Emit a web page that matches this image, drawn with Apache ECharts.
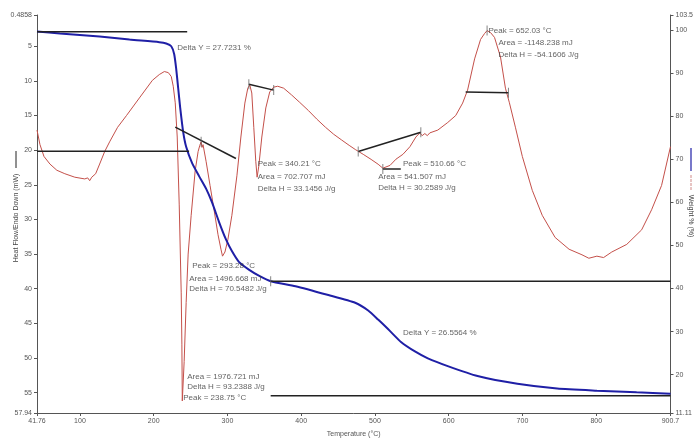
<!DOCTYPE html>
<html>
<head>
<meta charset="utf-8">
<script src="https://cdn.jsdelivr.net/npm/echarts@6/dist/echarts.min.js"></script>
<style>
  html, body { margin: 0; padding: 0; background: #fff; }
  #chart { width: 696px; height: 443px; }
</style>
</head>
<body>
<div id="chart"></div>
<script>
// Temperature axis (°C)
const tempTicks = [41.76, 100, 200, 300, 400, 500, 600, 700, 800, 900.7];
// Heat flow axis (mW), endo down
const heatTicks = [0.4858, 5, 10, 15, 20, 25, 30, 35, 40, 45, 50, 55, 57.94];
// Weight axis (%)
const weightTicks = [11.11, 20, 30, 40, 50, 60, 70, 80, 90, 100, 103.5];

// DSC trace: temperature (°C)
const dscTemp = [41.76, 45.8, 51.2, 59.3, 68.7, 79.5, 93.0, 106.5, 110.5, 113.2, 116.0, 121.3, 126.7, 133.5, 140.2,
  151.0, 163.1, 180.6, 198.2, 207.6, 214.4, 219.8, 223.8, 226.5, 229.2, 231.9, 234.6, 237.3, 238.2, 238.75,
  241.3, 244.0, 246.7, 250.8, 256.2, 260.2, 262.5, 264.3, 265.5, 266.9, 271.0, 276.4, 281.8, 287.2, 291.2,
  293.28, 296.6, 300.6, 306.0, 312.8, 318.2, 323.6, 327.6, 330.3, 333.0, 335.7, 338.4, 340.21, 342.5,
  346.6, 352.0, 357.3, 362.7, 368.1, 376.2, 387.0, 398.0, 409.9, 421.0, 432.8, 444.0, 454.4, 465.0, 473.3,
  484.1, 494.8, 504.3, 510.66, 520.4, 528.5, 537.9, 547.4, 555.5, 560.9, 564.0, 567.6, 571.0, 574.4,
  585.2, 598.7, 609.5, 618.9, 625.6, 635.1, 643.2, 648.6, 652.03, 656.7, 662.1, 670.2, 676.9, 682.3,
  690.4, 699.8, 713.3, 726.8, 744.3, 763.2, 780.7, 790.0, 800.9, 810.0, 821.1, 841.4, 861.6, 875.1, 888.6, 900.7];
// DSC trace: heat flow (mW)
const dscHeat = [17.1, 19.2, 20.9, 22.0, 22.9, 23.4, 23.9, 24.15, 24.0, 24.4, 23.9, 23.4, 22.0, 20.2, 18.8,
  16.7, 15.0, 12.46, 9.92, 9.08, 8.65, 8.8, 9.36, 10.77, 13.16, 18.1, 27.9, 40.6, 48.0, 56.2,
  50.5, 42.0, 35.0, 29.4, 23.0, 20.2, 19.3, 18.8, 19.6, 19.2, 21.6, 25.1, 28.6, 32.2, 34.3,
  35.3, 34.7, 32.9, 29.4, 23.7, 18.1, 13.2, 11.05, 10.6, 11.75, 16.7, 21.6, 23.9, 22.3,
  18.1, 13.9, 11.6, 10.9, 10.77, 11.05, 12.03, 13.1, 14.29, 15.5, 16.68, 17.7, 18.5, 19.3, 19.9,
  20.6, 21.33, 22.03, 22.6, 22.2, 21.3, 20.6, 19.5, 18.1, 17.5, 17.9, 17.6, 17.9, 17.5,
  17.1, 16.0, 15.0, 13.2, 11.33, 6.82, 4.01, 3.16, 2.74, 3.02, 3.72, 6.54, 11.05, 13.16,
  16.68, 20.9, 25.8, 29.4, 32.6, 34.3, 35.1, 35.6, 35.3, 35.5, 34.7, 33.6, 31.5, 28.6, 25.1, 19.5];

// TGA trace: temperature (°C)
const tgaTemp = [41.76, 72.8, 126.7, 167.2, 207.6, 217.0, 223.8, 227.8, 230.5, 233.2, 235.9, 240.0, 244.0,
  252.1, 261.5, 271.0, 279.1, 288.5, 298.0, 306.0, 315.5, 329.0, 342.5, 358.6, 392.3, 436.8, 473.2,
  490.8, 504.3, 517.7, 535.3, 554.2, 571.7, 598.7, 639.1, 693.1, 747.0, 800.9, 854.8, 900.7];
// TGA trace: weight (%)
const tgaWeight = [99.65, 99.2, 98.5, 97.8, 97.2, 96.9, 96.25, 94.4, 91.0, 86.5, 82.0, 76.3, 72.9,
  69.1, 66.1, 63.2, 60.0, 55.5, 51.4, 48.7, 46.2, 44.4, 43.0, 41.7, 40.55, 38.5, 36.7,
  34.9, 32.8, 30.6, 27.6, 25.4, 23.8, 22.0, 19.7, 17.9, 16.8, 16.3, 15.9, 15.6];

// Weight step levels (%) and their spans (°C)
const stepLevels = [99.6, 71.88, 41.7, 15.14];
const stepSpans = [[41.76, 245.4], [41.76, 248.0], [358.6, 900.7], [358.6, 900.7]];

// Integration baselines on the DSC trace: [T1, heat1, T2, heat2]
const baselines = [
  [229.2, 16.68, 311.5, 21.2],
  [329.0, 10.48, 362.7, 11.33],
  [477.3, 20.2, 562.2, 17.4],
  [510.66, 22.7, 535.0, 22.7],
  [623.0, 11.6, 681.0, 11.7]
];

// Cursor ticks on the DSC trace: [T, heat]
const dscCursors = [[264.3, 18.8], [329.0, 10.48], [362.7, 11.33], [477.3, 20.2], [562.2, 17.4],
  [510.66, 22.7], [652.03, 2.74], [681.0, 11.7]];
// Cursor ticks on the weight trace: [T, weight]
const tgaCursors = [[358.6, 41.7]];

// Peak annotations: text, anchor temperature, anchor heat flow
const notes = [
  ['Delta Y = 27.7231 %', 231.9, 5.27],
  ['Peak = 340.21 °C', 341.1, 22.03],
  ['Area = 702.707 mJ', 341.1, 23.86],
  ['Delta H = 33.1456 J/g', 341.1, 25.55],
  ['Peak = 293.28 °C', 252.1, 36.68],
  ['Area = 1496.668 mJ', 248.1, 38.5],
  ['Delta H = 70.5482 J/g', 248.1, 40.06],
  ['Area = 1976.721 mJ', 245.4, 52.7],
  ['Delta H = 93.2388 J/g', 245.4, 54.1],
  ['Peak = 238.75 °C', 240.0, 55.7],
  ['Peak = 510.66 °C', 538.0, 21.9],
  ['Area = 541.507 mJ', 504.3, 23.86],
  ['Delta H = 30.2589 J/g', 504.3, 25.4],
  ['Peak = 652.03 °C', 653.9, 2.74],
  ['Area = -1148.238 mJ', 667.4, 4.57],
  ['Delta H = -54.1606 J/g', 667.4, 6.26],
  ['Delta Y = 26.5564 %', 538.0, 46.3]
];

const FONT = 'Liberation Sans, Arial, sans-serif';
const AXIS_COLOR = '#555';
const LABEL_COLOR = '#555';
const zip = (a, b) => a.map((v, i) => [v, b[i]]);

const series = [];

series.push({
  name: 'Heat Flow', type: 'line', xAxisIndex: 0, yAxisIndex: 0,
  data: zip(dscTemp, dscHeat), symbol: 'none', smooth: false,
  lineStyle: { color: '#c4504a', width: 1 }, z: 3, silent: true
});

series.push({
  name: 'Weight', type: 'line', xAxisIndex: 0, yAxisIndex: 1,
  data: zip(tgaTemp, tgaWeight), symbol: 'none', smooth: 0.2,
  lineStyle: { color: '#1f1fa6', width: 2 }, z: 4, silent: true
});

stepLevels.forEach((lvl, i) => {
  series.push({
    type: 'line', yAxisIndex: 1, symbol: 'none', silent: true,
    data: [[stepSpans[i][0], lvl], [stepSpans[i][1], lvl]],
    lineStyle: { color: '#222', width: 1.5 }, z: 5
  });
});

baselines.forEach(b => {
  series.push({
    type: 'line', yAxisIndex: 0, symbol: 'none', silent: true,
    data: [[b[0], b[1]], [b[2], b[3]]],
    lineStyle: { color: '#222', width: 1.5 }, z: 5
  });
});

// small vertical cursor marks
const cursorStyle = { symbol: 'rect', symbolSize: [1, 10], itemStyle: { color: '#666' }, z: 6, silent: true };
series.push({ type: 'scatter', yAxisIndex: 0, data: dscCursors, ...cursorStyle });
series.push({ type: 'scatter', yAxisIndex: 1, data: tgaCursors, ...cursorStyle });

series.push({
  type: 'scatter', yAxisIndex: 0, symbolSize: 0, silent: true,
  data: notes.map(n => ({ value: [n[1], n[2]], name: n[0] })),
  label: {
    show: true, position: 'right', distance: 0,
    formatter: p => p.name, color: '#3a3a3a', fontSize: 8, fontFamily: FONT
  },
  z: 7
});

const axisCommon = {
  axisLine: { show: true, lineStyle: { color: AXIS_COLOR, width: 1 } },
  axisTick: { show: true, length: 3, lineStyle: { color: AXIS_COLOR } },
  splitLine: { show: false },
  axisLabel: { color: LABEL_COLOR, fontSize: 7, fontFamily: FONT }
};

const chart = echarts.init(document.getElementById('chart'), null, { renderer: 'canvas' });
chart.setOption({
  animation: false,
  backgroundColor: '#fff',
  grid: { left: 37, right: 22, top: 15, bottom: 20, containLabel: false },
  xAxis: {
    type: 'value', min: 41.76, max: 900.7,
    ...axisCommon,
    axisTick: { ...axisCommon.axisTick, customValues: tempTicks },
    axisLabel: { ...axisCommon.axisLabel, customValues: tempTicks, margin: 5 },
    name: 'Temperature (°C)', nameLocation: 'middle', nameGap: 18,
    nameTextStyle: { color: LABEL_COLOR, fontSize: 7, fontFamily: FONT }
  },
  yAxis: [
    {
      type: 'value', position: 'left', inverse: true, min: 0.4858, max: 57.94,
      ...axisCommon,
      axisTick: { ...axisCommon.axisTick, customValues: heatTicks },
      axisLabel: { ...axisCommon.axisLabel, customValues: heatTicks, margin: 5 }
    },
    {
      type: 'value', position: 'right', min: 11.11, max: 103.5,
      ...axisCommon,
      axisTick: { ...axisCommon.axisTick, customValues: weightTicks },
      axisLabel: { ...axisCommon.axisLabel, customValues: weightTicks, margin: 5 }
    }
  ],
  graphic: [
    { type: 'text', x: 16, y: 218, rotation: Math.PI / 2,
      style: { text: 'Heat Flow/Endo Down (mW)', fill: '#444', font: '7px ' + FONT, align: 'center', verticalAlign: 'middle' } },
    { type: 'line', shape: { x1: 16, y1: 151, x2: 16, y2: 168 }, style: { stroke: '#222', lineWidth: 1 } },
    { type: 'line', shape: { x1: 691, y1: 148, x2: 691, y2: 171 }, style: { stroke: '#1f1fa6', lineWidth: 1.2 } },
    { type: 'line', shape: { x1: 691, y1: 175, x2: 691, y2: 191 }, style: { stroke: '#d08a88', lineWidth: 1, lineDash: [3, 1] } },
    { type: 'text', x: 691, y: 216, rotation: -Math.PI / 2,
      style: { text: 'Weight % (%)', fill: '#444', font: '7px ' + FONT, align: 'center', verticalAlign: 'middle' } }
  ],
  series
});
</script>
</body>
</html>
